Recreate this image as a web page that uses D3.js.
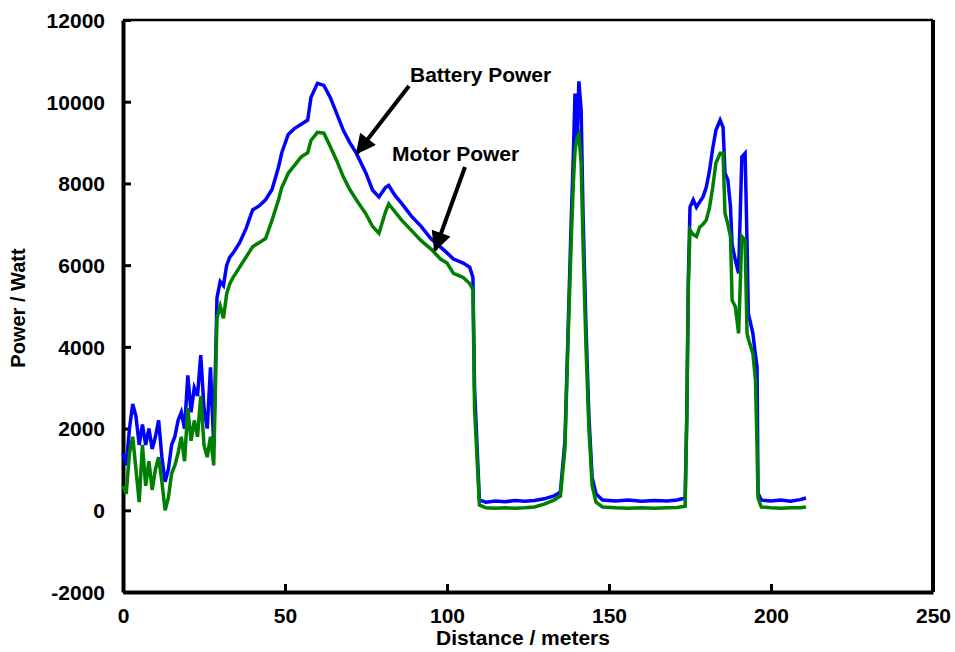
<!DOCTYPE html>
<html>
<head>
<meta charset="utf-8">
<script src="https://cdn.jsdelivr.net/npm/d3@7"></script>
<style>
  body { margin: 0; background: #fff; }
  text { font-family: "Liberation Sans", Arial, sans-serif; font-weight: bold; fill: #000; }
</style>
</head>
<body>
<svg id="chart" width="955" height="652"></svg>
<script>
// values
const distance = [0,1,2,3,4,5,6,7,8,9,10,11,12,13,14,15,16,17,18,19,20,21,22,23,24,25,26,27,28,29,
  30,31,32,33,34,36,38,40,42,44,46,48,49,51,53,55,57,58,60,62,64,66,68,70,72,75,77,79,81,82,84,86,89,92,95,98,100,102,105,107,108,108.5,
  110,112,115,118,121,124,127,130,133,135,
  136.4,137.3,138.3,139,139.5,140.1,140.7,141.4,142,142.9,143.8,144.8,146,
  148,152,156,160,164,168,171,173.5,
  174,174.5,175,176,177,178,179,180,181,182,183,184.3,185.2,185.8,186.7,187.5,188,189,190,191,192,192.6,193,194.4,195.2,195.7,
  196,197,200,203,206,209,210.8];

const batteryPower = [1400,1100,2000,2600,2300,1600,2100,1600,2000,1500,1800,2200,1300,700,1000,1600,1800,2200,2400,2000,3300,2400,3000,2800,3800,2500,2000,3500,1600,5200,
  5600,5500,6000,6200,6300,6550,6900,7350,7450,7600,7850,8400,8750,9200,9350,9450,9550,10100,10450,10400,10100,9700,9300,9000,8740,8250,7840,7670,7900,7950,7700,7510,7200,6950,6650,6440,6300,6150,6050,5950,5700,3000,
  250,200,230,210,240,220,240,280,350,450,
  1700,4200,7000,8700,10200,9000,10500,9800,7200,4500,2300,800,400,
  250,230,250,220,240,230,250,300,
  2300,5700,7420,7600,7420,7550,7670,7900,8300,8850,9300,9550,9380,8250,8080,7420,6500,6120,5800,8650,8740,6610,4820,4330,3800,3500,
  420,250,230,250,220,260,300];

const motorPower = [600,400,1400,1800,1000,200,1600,600,1200,500,1000,1300,700,0,300,900,1100,1400,1800,1200,2500,1700,2200,1800,2800,1600,1300,1800,1100,4700,
  5000,4700,5300,5550,5700,5950,6200,6450,6550,6650,7100,7600,7900,8250,8450,8650,8750,9050,9250,9230,8900,8550,8160,7850,7600,7250,6950,6780,7300,7500,7300,7100,6850,6600,6400,6150,6050,5800,5700,5550,5400,2500,
  130,60,50,60,50,60,80,150,250,350,
  1500,4000,6500,8000,8800,9100,9200,8500,6500,4000,2000,600,200,
  80,60,50,60,50,60,70,100,
  2200,5550,6860,6750,6700,6930,7000,7100,7400,7900,8500,8740,8740,7270,7000,6700,5140,4980,4330,6700,6610,4330,4200,3840,3200,1550,
  300,80,60,50,60,60,80];

const xTicks = [0, 50, 100, 150, 200, 250];
const yTicks = [-2000, 0, 2000, 4000, 6000, 8000, 10000, 12000];
const seriesNames = ["Battery Power", "Motor Power"];

const margin = { top: 20, right: 22, bottom: 60, left: 123 };
const width = 955 - margin.left - margin.right;
const height = 652 - margin.top - margin.bottom;

const svg = d3.select('#chart');
const g = svg.append('g').attr('transform', `translate(${margin.left},${margin.top})`);

const x = d3.scaleLinear().domain([0, 250]).range([0, width]);
const y = d3.scaleLinear().domain([-2000, 12000]).range([height, 0]);

// box
g.append('line').attr('x1', 0).attr('x2', width).attr('y1', 0).attr('y2', 0)
  .attr('stroke', '#000').attr('stroke-width', 2.5);
g.append('line').attr('x1', width).attr('x2', width).attr('y1', 0).attr('y2', height)
  .attr('stroke', '#000').attr('stroke-width', 4);

const plain = d => String(d);
const xAxis = d3.axisBottom(x).tickValues(xTicks).tickFormat(plain).tickSizeInner(-8).tickSizeOuter(0).tickPadding(16);
const yAxis = d3.axisLeft(y).tickValues(yTicks).tickFormat(plain).tickSizeInner(-8).tickSizeOuter(0).tickPadding(18);

const gx = g.append('g').attr('transform', `translate(0,${height})`).call(xAxis);
const gy = g.append('g').call(yAxis);
[gx, gy].forEach(a => {
  a.select('.domain').attr('stroke', '#000').attr('stroke-width', 4);
  a.selectAll('.tick line').attr('stroke', '#000').attr('stroke-width', 3);
  a.selectAll('.tick text').style('font-size', '21px').attr('fill', '#000');
});
gy.selectAll('.tick text').attr('dy', '0.35em');

// lines
const pts = (vals) => distance.map((d, i) => [d, vals[i]]);
const line = d3.line().x(d => x(d[0])).y(d => y(d[1]));

g.append('path').datum(pts(batteryPower))
  .attr('d', line).attr('fill', 'none').attr('stroke', '#0000ff').attr('stroke-width', 3.5);
g.append('path').datum(pts(motorPower))
  .attr('d', line).attr('fill', 'none').attr('stroke', '#008000').attr('stroke-width', 3.5);

// annotations with arrows
svg.append('defs').append('marker')
  .attr('id', 'head').attr('viewBox', '0 0 10 10').attr('refX', 9).attr('refY', 5)
  .attr('markerWidth', 6).attr('markerHeight', 5).attr('orient', 'auto')
  .append('path').attr('d', 'M0,0 L10,5 L0,10 Z').attr('fill', '#000');

const notes = [
  { text: seriesNames[0], tx: 410, ty: 82, from: [409, 86], to: [357, 153] },
  { text: seriesNames[1], tx: 392, ty: 161, from: [465, 167], to: [435, 250] }
];
notes.forEach(n => {
  svg.append('text').attr('x', n.tx).attr('y', n.ty).style('font-size', '21px').text(n.text);
  svg.append('line').attr('x1', n.from[0]).attr('y1', n.from[1]).attr('x2', n.to[0]).attr('y2', n.to[1])
    .attr('stroke', '#000').attr('stroke-width', 4).attr('marker-end', 'url(#head)');
});

// axis labels
svg.append('text').attr('x', margin.left + x(125) - 5).attr('y', 645)
  .attr('text-anchor', 'middle').style('font-size', '21px').text('Distance / meters');
svg.append('text').attr('transform', `translate(25,${margin.top + y(5000) + 2}) rotate(-90)`)
  .attr('text-anchor', 'middle').style('font-size', '20px').text('Power / Watt');
</script>
</body>
</html>
